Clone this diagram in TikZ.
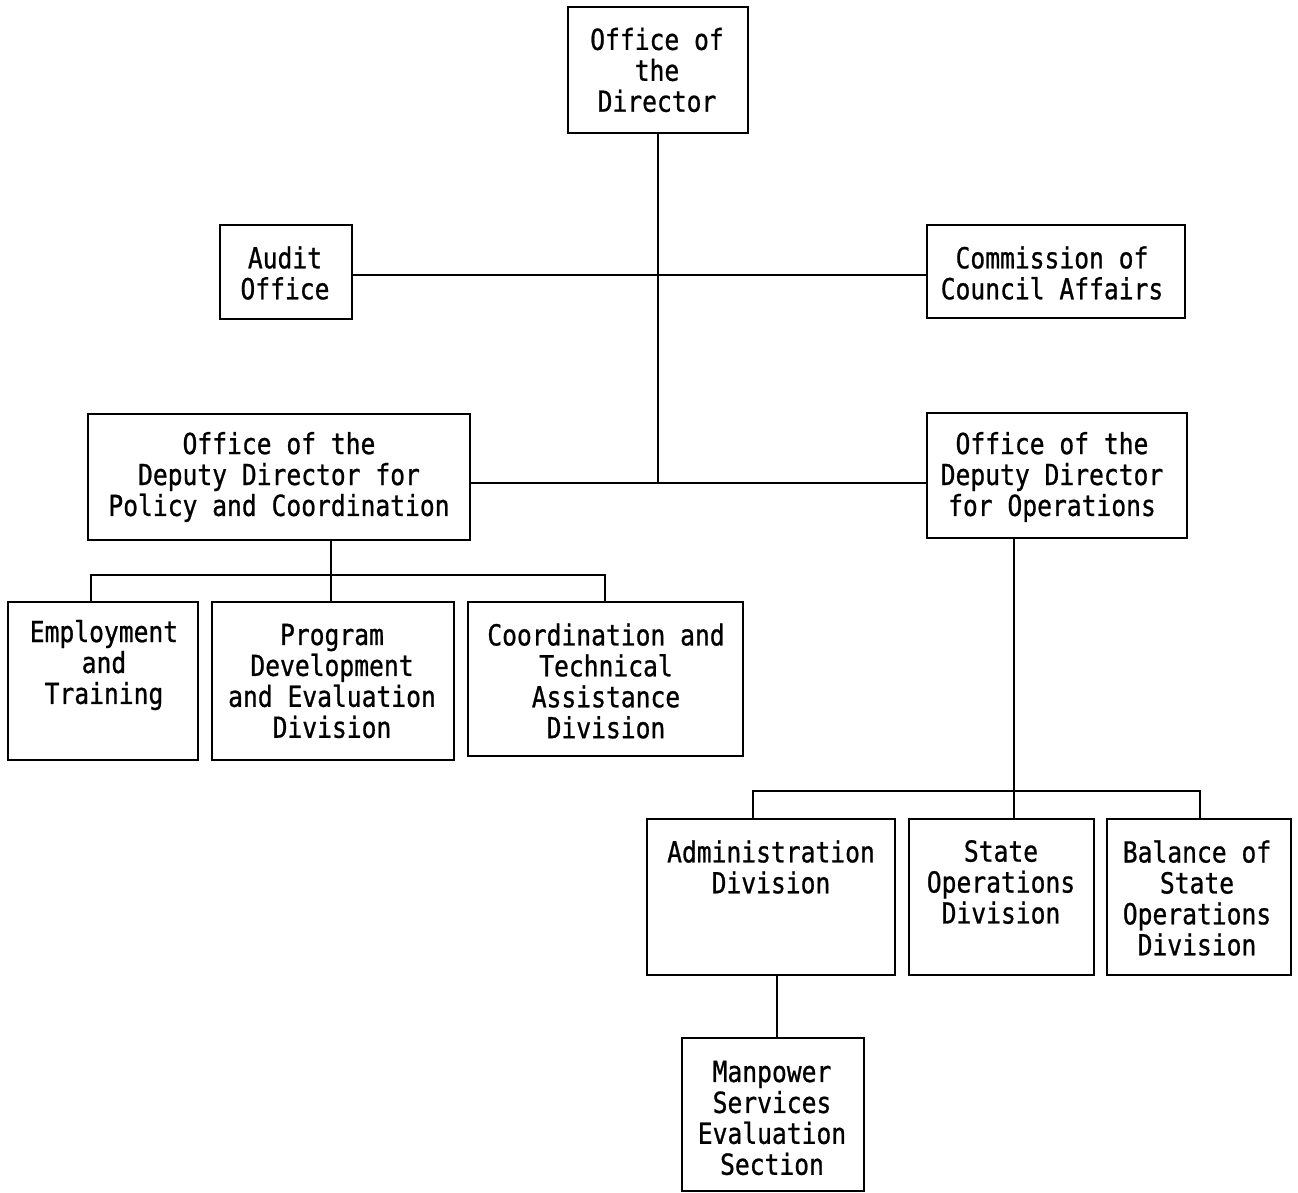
\documentclass[tikz,border=0pt]{standalone}
\usepackage{fontspec}
\newfontfamily\orgmono[FakeStretch=0.85,FakeBold=0.8]{DejaVu Sans Mono}
\begin{document}
\begin{tikzpicture}[x=0.02cm,y=-0.02cm,
  box/.style={draw, line width=1.6pt, inner sep=0pt},
  txt/.style={font=\orgmono\fontsize{16.5}{17.6}\selectfont, align=center, inner sep=0pt},
  link/.style={line width=1.6pt}]
\useasboundingbox[fill=white] (0,0) rectangle (1298,1193);
% boxes
\node[box, minimum width=3.6cm,  minimum height=2.52cm] (dir)   at (658,70) {};
\node[box, minimum width=2.64cm, minimum height=1.88cm] (audit) at (286,272) {};
\node[box, minimum width=5.16cm, minimum height=1.86cm] (comm)  at (1056,271.5) {};
\node[box, minimum width=7.64cm, minimum height=2.52cm] (pol)   at (279,477) {};
\node[box, minimum width=5.2cm,  minimum height=2.5cm]  (ops)   at (1057,475.5) {};
\node[box, minimum width=3.8cm,  minimum height=3.16cm] (emp)   at (103,681) {};
\node[box, minimum width=4.84cm, minimum height=3.16cm] (prog)  at (333,681) {};
\node[box, minimum width=5.5cm,  minimum height=3.08cm] (coord) at (605.5,679) {};
\node[box, minimum width=4.96cm, minimum height=3.12cm] (adm)   at (771,897) {};
\node[box, minimum width=3.7cm,  minimum height=3.12cm] (state) at (1001.5,897) {};
\node[box, minimum width=3.68cm, minimum height=3.12cm] (bal)   at (1199,897) {};
\node[box, minimum width=3.64cm, minimum height=3.06cm] (man)   at (773,1114.5) {};
% texts
\node[txt] (tdir)   at (657,70)   {Office of\\the\\Director};
\node[txt] (taudit) at (285,273)  {Audit\\Office};
\node[txt] (tcomm)  at (1052,273) {Commission of\\Council Affairs};
\node[txt] (tpol)   at (279,477)  {Office of the\\Deputy Director for\\Policy and Coordination};
\node[txt] (tops)   at (1052,477) {Office of the\\Deputy Director\\for Operations};
\node[txt] (temp)   at (104,665)  {Employment\\and\\Training};
\node[txt] (tprog)  at (332,681)  {Program\\Development\\and Evaluation\\Division};
\node[txt] (tcoord) at (606,681)  {Coordination and\\Technical\\Assistance\\Division};
\node[txt] (tadm)   at (771,867)  {Administration\\Division};
\node[txt] (tstate) at (1001,882) {State\\Operations\\Division};
\node[txt] (tbal)   at (1197,898) {Balance of\\State\\Operations\\Division};
\node[txt] (tman)   at (772,1118) {Manpower\\Services\\Evaluation\\Section};
% junction coordinates
\coordinate (ja) at (658,275);
\coordinate (jb) at (658,483);
\coordinate (pbus) at (331,575);
\coordinate (pl) at (91,575);
\coordinate (pr) at (605,575);
\coordinate (obus) at (1014,791);
\coordinate (ol) at (753,791);
\coordinate (or) at (1200,791);
\coordinate (av) at (777,975);
% connectors
\draw[link] (dir.south) -- (dir.south |- jb);
\draw[link] (audit.east |- ja) -- (comm.west |- ja);
\draw[link] (pol.east |- jb) -- (ops.west |- jb);
\draw[link] (pbus |- pol.south) -- (pbus |- prog.north);
\draw[link] (pl |- emp.north) -- (pl) -- (pr) -- (pr |- coord.north);
\draw[link] (obus |- ops.south) -- (obus |- state.north);
\draw[link] (ol |- adm.north) -- (ol) -- (or) -- (or |- bal.north);
\draw[link] (av |- adm.south) -- (av |- man.north);
\end{tikzpicture}
\end{document}
